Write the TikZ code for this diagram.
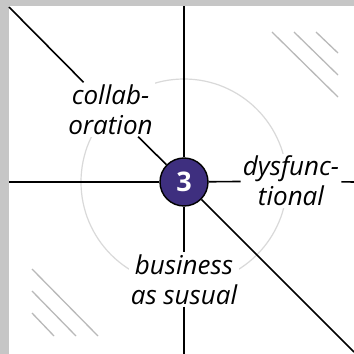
\documentclass[tikz,border=0pt]{standalone}
\usepackage{fontspec}
\setsansfont{Open Sans}
\usepackage{tikz}
\usetikzlibrary{positioning, calc}
\definecolor{hubviolet}{HTML}{3E2F7F}

\tikzset{
  axis/.style={line width=1.6pt, black},
  hatch/.style={line width=1.3pt, gray!55},
  quadlabel/.style={fill=white, inner sep=2pt, align=center,
    font=\sffamily\itshape\fontsize{26}{30}\selectfont},
  hub/.style={circle, draw=black, line width=1.4pt, fill=hubviolet,
    minimum size=48pt, inner sep=0pt, text=white,
    font=\sffamily\bfseries\fontsize{27}{27}\selectfont}
}

\begin{document}
\begin{tikzpicture}[x=10pt, y=10pt]
% 枠と背景
\fill[gray!45] (-18.4,18.2) rectangle (17.0,-17.2);
\fill[white] (-17.5,17.6) rectangle (17.0,-17.2);
\useasboundingbox (-18.4,18.2) rectangle (17.0,-17.2);

% 薄い円
\draw[gray!30, line width=1.2pt] (0,0) circle (10.3);

% 斜線
\foreach \d in {0,2.2,4.4} {
  \draw[hatch] (8.8+\d,15.0) -- (15.4,8.5+\d);
  \draw[hatch] (-15.2,-8.7-\d) -- (-8.6-\d,-15.4);
}

% 端点
\coordinate (tl) at (-17.5,17.5);
\coordinate (br) at (17.0,-17.0);
\coordinate (west) at (-17.5,0);
\coordinate (east) at (17.0,0);
\coordinate (north) at (0,17.6);
\coordinate (south) at (0,-17.2);

% ラベル
\node[quadlabel] (collab) at (-7.35,7.25) {collab-\\oration};
\node[quadlabel] (dysf) at (10.7,0.1) {dysfunc-\\tional};
\node[quadlabel] (biz) at (0,-9.75) {business\\as susual};

% 中心
\node[hub] (center) at (0,0) {3};

% 軸
\draw[axis] (tl) -- (collab);
\draw[axis] (collab) -- (center);
\draw[axis] (center) -- (br);
\draw[axis] (west) -- (center);
\draw[axis] (center) -- (dysf);
\draw[axis] (dysf) -- (east);
\draw[axis] (north) -- (center);
\draw[axis] (center) -- (biz);
\draw[axis] (biz) -- (south);
\end{tikzpicture}
\end{document}
